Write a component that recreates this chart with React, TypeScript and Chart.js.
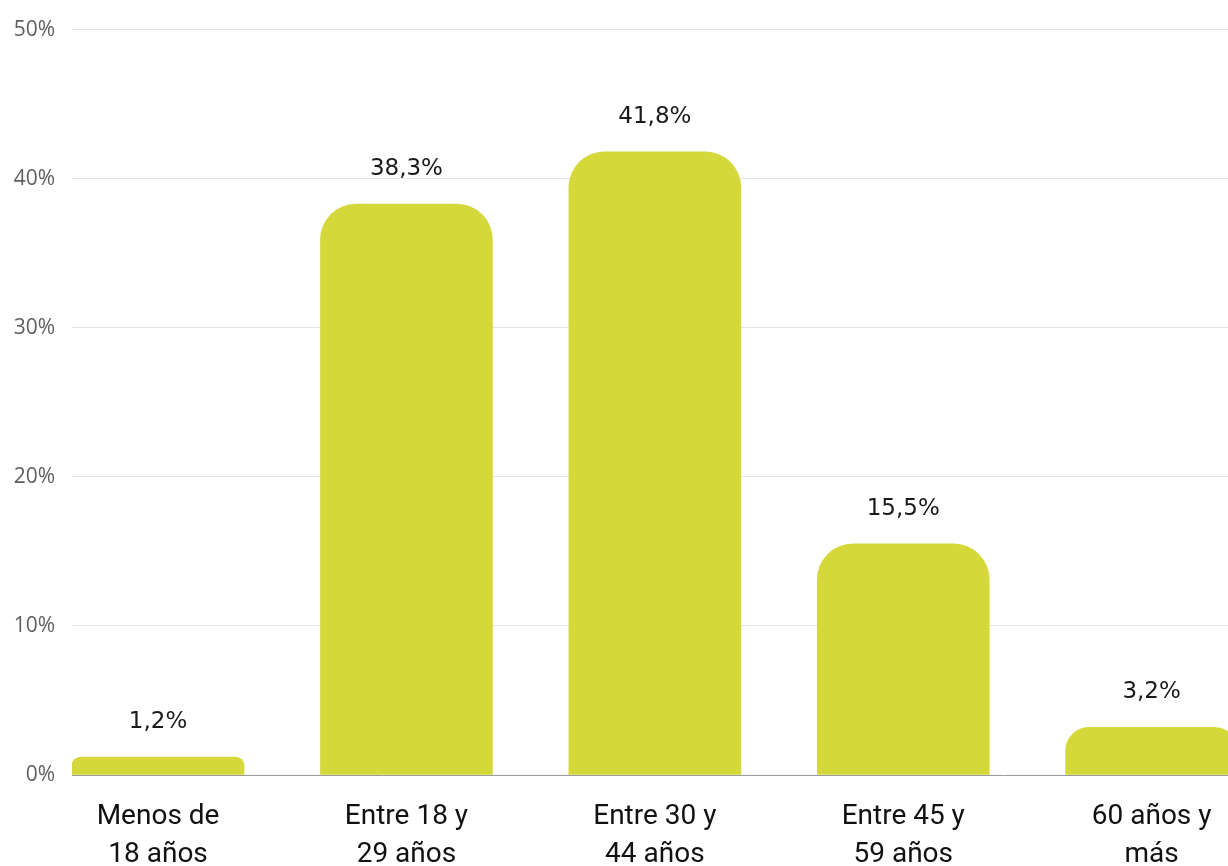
import React, { useEffect, useRef } from "react";
import { Chart, registerables } from "chart.js";

Chart.register(...registerables);

const categories: string[][] = [
  ["Menos de", "18 años"],
  ["Entre 18 y", "29 años"],
  ["Entre 30 y", "44 años"],
  ["Entre 45 y", "59 años"],
  ["60 años y", "más"],
];
const values: number[] = [1.2, 38.3, 41.8, 15.5, 3.2];
const yTicks: number[] = [0, 10, 20, 30, 40, 50];

const BAR_COLOR = "#d4d83b";

const valueLabels = {
  id: "valueLabels",
  afterDatasetsDraw(chart: any) {
    const ctx = chart.ctx;
    const meta = chart.getDatasetMeta(0);
    ctx.save();
    ctx.fillStyle = "#1a1a1a";
    ctx.font = "23px 'DejaVu Sans'";
    ctx.textAlign = "center";
    ctx.textBaseline = "alphabetic";
    meta.data.forEach((bar: any, i: number) => {
      const txt = values[i].toFixed(1).replace(".", ",") + "%";
      ctx.fillText(txt, bar.x, bar.y - 29);
    });
    ctx.restore();
  },
};

export default function App() {
  const ref = useRef<HTMLCanvasElement | null>(null);
  useEffect(() => {
    if (!ref.current) return;
    const chart = new Chart(ref.current, {
      type: "bar",
      data: {
        datasets: [
          {
            data: values.map((v, i) => ({ x: i, y: v })),
            backgroundColor: BAR_COLOR,
            barThickness: 172,
            borderRadius: { topLeft: 36, topRight: 36, bottomLeft: 0, bottomRight: 0 },
            borderSkipped: false,
          },
        ],
      },
      options: {
        animation: false,
        responsive: true,
        maintainAspectRatio: false,
        layout: { padding: { left: 10, top: 28, right: 0, bottom: 0 } },
        plugins: { legend: { display: false }, tooltip: { enabled: false } },
        scales: {
          x: {
            type: "linear",
            offset: false,
            min: -0.3464,
            max: 4.6536,
            grid: { display: false, drawTicks: false },
            border: { display: false },
            afterBuildTicks: (axis: any) => {
              axis.ticks = categories.map((_, i) => ({ value: i }));
            },
            afterFit: (axis: any) => {
              axis.height = 91;
            },
            ticks: {
              autoSkip: false,
              maxRotation: 0,
              padding: 23,
              color: "#111111",
              font: { family: "Roboto", size: 28, lineHeight: 1.36 },
              callback: (v: any) => categories[Number(v)] ?? "",
            },
          },
          y: {
            min: 0,
            max: 50,
            afterBuildTicks: (axis: any) => {
              axis.ticks = yTicks.map((v) => ({ value: v }));
            },
            afterFit: (axis: any) => {
              axis.width = 62;
            },
            grid: {
              drawTicks: false,
              color: (c: any) => (c.tick && c.tick.value === 0 ? "#9a9a9a" : "#e4e4e4"),
              lineWidth: 1,
            },
            border: { display: false },
            ticks: {
              padding: 17,
              color: "#606060",
              font: { family: "Open Sans", size: 21 },
              callback: (v: any) => v + "%",
            },
          },
        },
      },
      plugins: [valueLabels],
    });
    return () => chart.destroy();
  }, []);

  return (
    <div
      style={{
        position: "fixed",
        left: 0,
        top: 0,
        width: 1228,
        height: 866,
        overflow: "hidden",
        background: "#ffffff",
      }}
    >
      <div style={{ position: "relative", width: 1314, height: 866 }}>
        <canvas ref={ref} />
      </div>
    </div>
  );
}
